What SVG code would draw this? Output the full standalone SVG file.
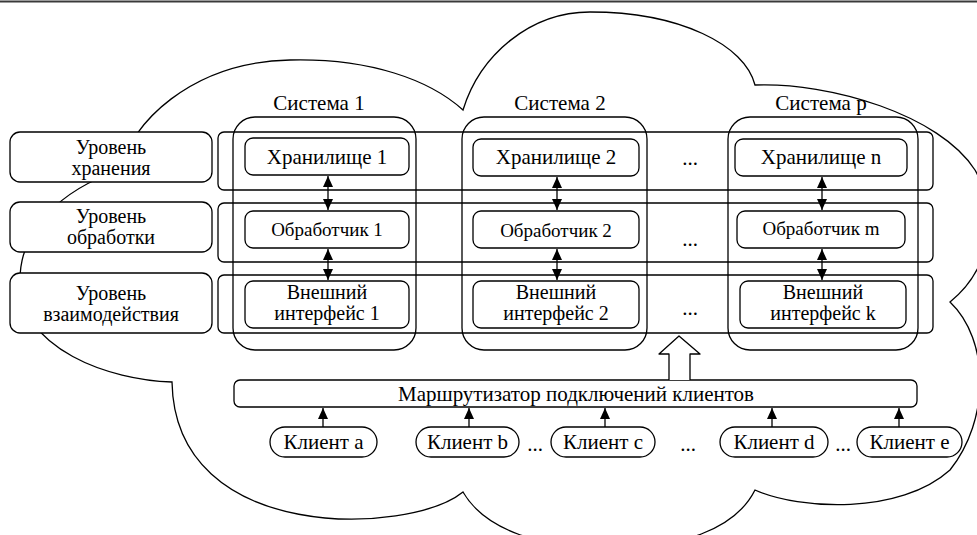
<svg xmlns="http://www.w3.org/2000/svg" width="977" height="535" viewBox="0 0 977 535">
  <style>
    text { font-family: "Liberation Serif", "Times New Roman", serif; font-size: 21px; text-anchor: middle; fill: #000; }
    .small { font-size: 19px; }
    .label { font-size: 20px; }
    .box { fill: #fff; stroke: #000; stroke-width: 1.3; }
    .frame { fill: none; stroke: #000; stroke-width: 1.3; }
    .cloud { fill: none; stroke: #000; stroke-width: 1.3; }
    .link { stroke: #000; stroke-width: 1.3; fill: none; }
    .dbl { marker-start: url(#arrow); marker-end: url(#arrow); }
    .one { marker-end: url(#arrow); }
  </style>
  <defs>
    <marker id="arrow" markerUnits="userSpaceOnUse" markerWidth="11" markerHeight="10" refX="11" refY="5" orient="auto-start-reverse">
      <path d="M0,0 L11,5 L0,10 z" fill="#000"/>
    </marker>
  </defs>

  <rect width="977" height="535" fill="#fff"/>
  <line x1="0" y1="1.5" x2="977" y2="1.5" stroke="#3a3a3a" stroke-width="2"/>

  <!-- cloud outline -->
  <g id="cloud">
    <path class="cloud" d="M120,170 C130,125 190,62 290,60 C370,58 430,80 463,110 C480,55 530,12 590,12 C680,12 745,45 755,85 C830,82 940,115 975,170 C1000,215 990,270 950,302 C990,340 990,420 950,470 C900,515 800,510 755,490 C735,530 680,548 610,548 C540,548 485,530 463,492 C410,535 175,545 172,382 C110,380 20,350 20,280 C20,230 60,190 120,170 Z"/>
  </g>

  <!-- level labels -->
  <g id="level-storage">
    <rect class="box" x="10" y="132" width="202" height="50" rx="10"/>
    <text class="label" x="111" y="154">Уровень</text>
    <text class="label" x="111" y="175">хранения</text>
  </g>
  <g id="level-processing">
    <rect class="box" x="10" y="202" width="202" height="50" rx="10"/>
    <text class="label" x="111" y="223">Уровень</text>
    <text class="label" x="111" y="244">обработки</text>
  </g>
  <g id="level-interaction">
    <rect class="box" x="10" y="273" width="202" height="60" rx="10"/>
    <text class="label" x="111" y="300">Уровень</text>
    <text class="label" x="111" y="321">взаимодействия</text>
  </g>

  <!-- level rows -->
  <g id="rows">
    <rect id="row-storage" class="frame" x="218" y="132" width="715" height="58" rx="6"/>
    <rect id="row-processing" class="frame" x="218" y="203" width="715" height="59" rx="6"/>
    <rect id="row-interaction" class="frame" x="218" y="275" width="715" height="58" rx="6"/>
  </g>

  <!-- systems -->
  <g id="system-1">
    <rect class="frame" x="233" y="117" width="183" height="233" rx="22"/>
    <text x="319" y="110">Система 1</text>
  </g>
  <g id="system-2">
    <rect class="frame" x="462" y="117" width="185" height="233" rx="22"/>
    <text x="560" y="110">Система 2</text>
  </g>
  <g id="system-p">
    <rect class="frame" x="728" y="117" width="190" height="233" rx="22"/>
    <text x="821" y="110">Система p</text>
  </g>

  <!-- components -->
  <g id="storage-1">
    <rect class="box" x="245" y="138" width="164" height="37" rx="8"/>
    <text x="327" y="164">Хранилище 1</text>
  </g>
  <g id="storage-2">
    <rect class="box" x="473" y="139" width="166" height="37" rx="8"/>
    <text x="556" y="164">Хранилище 2</text>
  </g>
  <g id="storage-n">
    <rect class="box" x="735" y="139" width="172" height="37" rx="8"/>
    <text x="821" y="164">Хранилище n</text>
  </g>
  <g id="handler-1">
    <rect class="box" x="245" y="211" width="164" height="37" rx="8"/>
    <text class="small" x="327" y="236">Обработчик 1</text>
  </g>
  <g id="handler-2">
    <rect class="box" x="473" y="211" width="166" height="37" rx="8"/>
    <text class="small" x="556" y="237">Обработчик 2</text>
  </g>
  <g id="handler-m">
    <rect class="box" x="737" y="211" width="168" height="37" rx="8"/>
    <text class="small" x="821" y="235">Обработчик m</text>
  </g>
  <g id="interface-1">
    <rect class="box" x="245" y="281" width="164" height="47" rx="8"/>
    <text class="label" x="327" y="299">Внешний</text>
    <text class="label" x="327" y="320">интерфейс 1</text>
  </g>
  <g id="interface-2">
    <rect class="box" x="473" y="281" width="166" height="47" rx="8"/>
    <text class="label" x="556" y="299">Внешний</text>
    <text class="label" x="556" y="320">интерфейс 2</text>
  </g>
  <g id="interface-k">
    <rect class="box" x="740" y="281" width="166" height="47" rx="8"/>
    <text class="label" x="823" y="299">Внешний</text>
    <text class="label" x="823" y="320">интерфейс k</text>
  </g>

  <!-- ellipses between systems -->
  <g id="gaps">
    <text x="690" y="165">...</text>
    <text x="690" y="246">...</text>
    <text x="690" y="315">...</text>
  </g>

  <!-- client router -->
  <g id="router">
    <rect class="box" x="234" y="380" width="683" height="27" rx="6"/>
    <text x="576" y="401">Маршрутизатор подключений клиентов</text>
  </g>

  <!-- clients -->
  <g id="client-a">
    <rect class="box" x="270" y="427" width="107" height="30" rx="15"/>
    <text x="323.5" y="449">Клиент a</text>
  </g>
  <g id="client-b">
    <rect class="box" x="416" y="427" width="103" height="30" rx="15"/>
    <text x="467.5" y="449">Клиент b</text>
  </g>
  <g id="client-c">
    <rect class="box" x="551" y="427" width="104" height="30" rx="15"/>
    <text x="603" y="449">Клиент c</text>
  </g>
  <g id="client-d">
    <rect class="box" x="720" y="427" width="108" height="30" rx="15"/>
    <text x="774" y="449">Клиент d</text>
  </g>
  <g id="client-e">
    <rect class="box" x="857" y="427" width="105" height="30" rx="15"/>
    <text x="909.5" y="449">Клиент e</text>
  </g>
  <g id="client-gaps">
    <text x="535" y="451">...</text>
    <text x="688" y="451">...</text>
    <text x="843" y="451">...</text>
  </g>

  <!-- connectors -->
  <g id="connectors">
    <line class="link dbl" x1="328" y1="176" x2="328" y2="210"/>
    <line class="link dbl" x1="328" y1="249" x2="328" y2="280"/>
    <line class="link dbl" x1="557" y1="177" x2="557" y2="210"/>
    <line class="link dbl" x1="557" y1="249" x2="557" y2="280"/>
    <line class="link dbl" x1="822" y1="177" x2="822" y2="210"/>
    <line class="link dbl" x1="822" y1="249" x2="822" y2="280"/>
    <line class="link one" x1="323" y1="427" x2="323" y2="408"/>
    <line class="link one" x1="469" y1="427" x2="469" y2="408"/>
    <line class="link one" x1="605" y1="427" x2="605" y2="408"/>
    <line class="link one" x1="772" y1="427" x2="772" y2="408"/>
    <line class="link one" x1="899" y1="427" x2="899" y2="408"/>
    <path class="box" stroke-linejoin="round" d="M669,380 L669,354 L659,354 L679,336 L700,354 L690,354 L690,380"/>
  </g>
</svg>
